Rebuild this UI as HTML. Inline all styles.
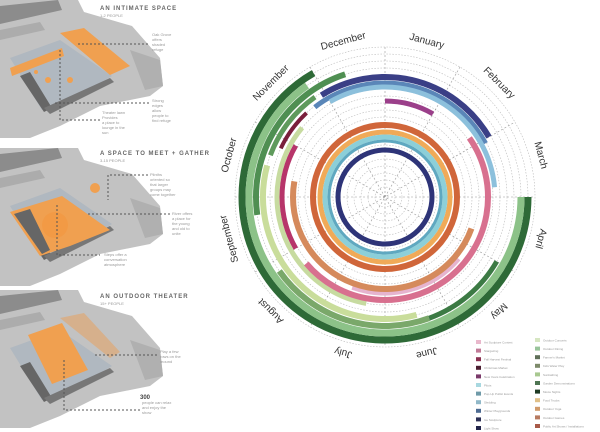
<!DOCTYPE html>
<html><head><meta charset="utf-8"><style>
html,body{margin:0;padding:0;background:#fff;width:600px;height:432px;overflow:hidden;font-family:"Liberation Sans",sans-serif}
</style></head><body>
<svg width="600" height="432" viewBox="0 0 600 432" xmlns="http://www.w3.org/2000/svg">
<defs>
<g id="base">
<polygon points="0,0 78,0 84,12 132,26 160,58 163,86 150,96 100,106 60,126 30,138 0,138" fill="#c2c2c2"/>
<polygon points="0,6 58,0 62,10 0,24" fill="#8c8c8c"/>
<polygon points="0,30 40,22 45,30 0,40" fill="#acacac"/>
<polygon points="10,58 60,40 112,76 72,100 42,110" fill="#b0b8c0"/>
<polygon points="20,76 30,72 52,108 44,112" fill="#666"/>
<polygon points="44,108 110,78 114,82 50,114" fill="#777"/>
<polygon points="130,50 160,60 163,86 145,90" fill="#b0b0b0"/>
</g>
</defs>
<use href="#base" x="0" y="0"/>
<polygon points="60,33 84,28 130,66 110,75" fill="#f0a050"/>
<polygon points="10,68 62,48 64,56 12,76" fill="#f0a050"/>
<circle cx="48" cy="80" r="3" fill="#f0a050"/><circle cx="70" cy="80" r="3" fill="#f0a050"/><circle cx="36" cy="72" r="2" fill="#f0a050"/>
<g stroke="#555" stroke-width="1" stroke-dasharray="2,2" fill="none">
<path d="M78,44H150M60,50V120H100M55,103H150"/>
</g>
<text x="100" y="10" font-size="6" font-weight="bold" fill="#666" letter-spacing="1">AN INTIMATE SPACE</text>
<text x="100" y="17" font-size="4" fill="#999">1-2 PEOPLE</text>
<g font-size="4" fill="#999"><text x="152" y="36">Oak Grove</text><text x="152" y="41">offers</text><text x="152" y="46">shaded</text><text x="152" y="51">refuge</text>
<text x="152" y="102">Strong</text><text x="152" y="107">edges</text><text x="152" y="112">allow</text><text x="152" y="117">people to</text><text x="152" y="122">find refuge</text>
<text x="102" y="114">Theater lawn</text><text x="102" y="119">Provides</text><text x="102" y="124">a place to</text><text x="102" y="129">lounge in the</text><text x="102" y="134">sun</text></g>
<use href="#base" x="0" y="148"/>
<polygon points="10,212 62,196 110,230 70,246 40,256" fill="#f0a050"/>
<circle cx="55" cy="225" r="13" fill="#f29a45"/>
<polygon points="14,214 30,209 50,250 42,254" fill="#666"/>
<circle cx="95" cy="188" r="5" fill="#f0a050"/>
<g stroke="#555" stroke-width="1" stroke-dasharray="2,2" fill="none">
<path d="M110,175H148M108,175V200M88,214H170M57,205V255H100"/>
</g>
<text x="100" y="155" font-size="6" font-weight="bold" fill="#666" letter-spacing="1">A SPACE TO MEET + GATHER</text>
<text x="100" y="162" font-size="4" fill="#999">3-15 PEOPLE</text>
<g font-size="4" fill="#999"><text x="150" y="176">Plinths</text><text x="150" y="181">oriented so</text><text x="150" y="186">that larger</text><text x="150" y="191">groups may</text><text x="150" y="196">come together</text>
<text x="172" y="215">River offers</text><text x="172" y="220">a place for</text><text x="172" y="225">the young</text><text x="172" y="230">and old to</text><text x="172" y="235">unite</text>
<text x="104" y="256">Steps offer a</text><text x="104" y="261">conversation</text><text x="104" y="266">atmosphere</text></g>
<use href="#base" x="0" y="290"/>
<polygon points="28,335 62,323 88,370 52,384" fill="#f0a050"/>
<polygon points="60,318 84,313 120,352 110,358" fill="#d6b08c"/>
<g stroke="#555" stroke-width="1" stroke-dasharray="2,2" fill="none">
<path d="M95,355H158M64,360V410H140"/>
</g>
<text x="100" y="298" font-size="6" font-weight="bold" fill="#666" letter-spacing="1">AN OUTDOOR THEATER</text>
<text x="100" y="305" font-size="4" fill="#999">15+ PEOPLE</text>
<g font-size="4" fill="#999"><text x="160" y="353">Play a few</text><text x="160" y="358">rows on the</text><text x="160" y="363">mound</text>
<text x="142" y="404">people can relax</text><text x="142" y="409">and enjoy the</text><text x="142" y="414">show</text></g>
<text x="140" y="399" font-size="6" font-weight="bold" fill="#444">300</text>

<g fill="none" stroke="#bbb" stroke-width="0.6" stroke-dasharray="1.5,1.5">
<circle cx="385" cy="197" r="150"/><circle cx="385" cy="197" r="143"/><circle cx="385" cy="197" r="136"/><circle cx="385" cy="197" r="129"/><circle cx="385" cy="197" r="122"/><circle cx="385" cy="197" r="115"/><circle cx="385" cy="197" r="108"/><circle cx="385" cy="197" r="101"/><circle cx="385" cy="197" r="94"/><circle cx="385" cy="197" r="87"/><circle cx="385" cy="197" r="80"/><circle cx="385" cy="197" r="73"/><circle cx="385" cy="197" r="66"/><circle cx="385" cy="197" r="59"/><circle cx="385" cy="197" r="52"/><circle cx="385" cy="197" r="45"/><circle cx="385" cy="197" r="38"/><circle cx="385" cy="197" r="31"/><circle cx="385" cy="197" r="24"/><circle cx="385" cy="197" r="17"/><circle cx="385" cy="197" r="10"/>
</g>
<g stroke="#999" stroke-width="0.6" stroke-dasharray="2,2">
<path d="M385,47V347M235,197H535M310,67L460,327M460,67L310,327M255,122L515,272M255,272L515,122"/>
</g>
<g fill="none">
<circle cx="385" cy="197" r="143" stroke="#2e6a37" stroke-width="7" pathLength="360" stroke-dasharray="240 999"/>
<circle cx="385" cy="197" r="136" stroke="#8cc288" stroke-width="7" pathLength="360" stroke-dasharray="235 999"/>
<circle cx="385" cy="197" r="129" stroke="#4f8f52" stroke-width="6" pathLength="360" stroke-dasharray="80 999" transform="rotate(172 385 197)"/>
<circle cx="385" cy="197" r="129" stroke="#7aa86a" stroke-width="6" pathLength="360" stroke-dasharray="75 999" transform="rotate(70 385 197)"/>
<circle cx="385" cy="197" r="129" stroke="#3c7a44" stroke-width="5" pathLength="360" stroke-dasharray="40 999" transform="rotate(30 385 197)"/>
<circle cx="385" cy="197" r="122" stroke="#c9dd9b" stroke-width="6" pathLength="360" stroke-dasharray="120 999" transform="rotate(75 385 197)"/>
<circle cx="385" cy="197" r="122" stroke="#5f9a5c" stroke-width="5" pathLength="360" stroke-dasharray="35 999" transform="rotate(200 385 197)"/>
<circle cx="385" cy="197" r="120" stroke="#3a3f86" stroke-width="6" pathLength="360" stroke-dasharray="92 999" transform="rotate(238 385 197)"/>
<circle cx="385" cy="197" r="114" stroke="#5a86b8" stroke-width="5" pathLength="360" stroke-dasharray="100 999" transform="rotate(232 385 197)"/>
<circle cx="385" cy="197" r="110" stroke="#8cc0dc" stroke-width="5" pathLength="360" stroke-dasharray="115 999" transform="rotate(240 385 197)"/>
<circle cx="385" cy="197" r="115" stroke="#7a1f3c" stroke-width="4" pathLength="360" stroke-dasharray="22 999" transform="rotate(205 385 197)"/>
<circle cx="385" cy="197" r="108" stroke="#c7dba0" stroke-width="5" pathLength="360" stroke-dasharray="120 999" transform="rotate(100 385 197)"/>
<circle cx="385" cy="197" r="103" stroke="#d8708f" stroke-width="6" pathLength="360" stroke-dasharray="175 999" transform="rotate(325 385 197)"/>
<circle cx="385" cy="197" r="103" stroke="#b7356a" stroke-width="5" pathLength="360" stroke-dasharray="60 999" transform="rotate(150 385 197)"/>
<circle cx="385" cy="197" r="96" stroke="#e6b4cf" stroke-width="5" pathLength="360" stroke-dasharray="70 999" transform="rotate(40 385 197)"/>
<circle cx="385" cy="197" r="96" stroke="#9b3f8a" stroke-width="5" pathLength="360" stroke-dasharray="30 999" transform="rotate(270 385 197)"/>
<circle cx="385" cy="197" r="92" stroke="#d58a5c" stroke-width="6" pathLength="360" stroke-dasharray="170 999" transform="rotate(20 385 197)"/>
<circle cx="385" cy="197" r="72" stroke="#d0663a" stroke-width="6"/>
<circle cx="385" cy="197" r="65" stroke="#f0aa58" stroke-width="5"/>
<circle cx="385" cy="197" r="60" stroke="#8ccfd8" stroke-width="5"/>
<circle cx="385" cy="197" r="56" stroke="#5fa8c0" stroke-width="3"/>
<circle cx="385" cy="197" r="47" stroke="#2e3478" stroke-width="5"/>
</g>
<g font-size="10" fill="#333" text-anchor="middle">
<text transform="translate(426,44) rotate(15)">January</text>
<text transform="translate(497,85) rotate(45)">February</text>
<text transform="translate(538,156) rotate(75)">March</text>
<text transform="translate(538,238) rotate(105)">April</text>
<text transform="translate(497,309) rotate(135)">May</text>
<text transform="translate(426,350) rotate(165)">June</text>
<text transform="translate(344,350) rotate(195)">July</text>
<text transform="translate(273,309) rotate(225)">August</text>
<text transform="translate(232,238) rotate(255)">September</text>
<text transform="translate(232,156) rotate(285)">October</text>
<text transform="translate(273,85) rotate(315)">November</text>
<text transform="translate(344,44) rotate(345)">December</text>
</g>
<g font-size="3" fill="#999">
<rect x="476" y="340" width="5" height="4" fill="#e9b8cc"/><text x="484" y="343.5">Art Sculpture Contest</text>
<rect x="476" y="348.6" width="5" height="4" fill="#c07a97"/><text x="484" y="352">Stargazing</text>
<rect x="476" y="357.2" width="5" height="4" fill="#8a3050"/><text x="484" y="360.5">Fall Harvest Festival</text>
<rect x="476" y="365.8" width="5" height="4" fill="#4a1d30"/><text x="484" y="369">Christmas Market</text>
<rect x="476" y="374.4" width="5" height="4" fill="#7a3a6a"/><text x="484" y="377.8">New Years Celebration</text>
<rect x="476" y="383" width="5" height="4" fill="#a8d8e0"/><text x="484" y="386.5">Pilots</text>
<rect x="476" y="391.6" width="5" height="4" fill="#6f9aa8"/><text x="484" y="395">Pop-Up Public Events</text>
<rect x="476" y="400.2" width="5" height="4" fill="#90b8c8"/><text x="484" y="403.5">Sledding</text>
<rect x="476" y="408.8" width="5" height="4" fill="#4d6b92"/><text x="484" y="412">Winter Playgrounds</text>
<rect x="476" y="417.4" width="5" height="4" fill="#2c2f55"/><text x="484" y="420.8">Ice Sculpture</text>
<rect x="476" y="426" width="5" height="4" fill="#22244a"/><text x="484" y="429.5">Light Show</text>
<rect x="535" y="338" width="5" height="4" fill="#d6e6c2"/><text x="543" y="341.5">Outdoor Concerts</text>
<rect x="535" y="346.6" width="5" height="4" fill="#98c49a"/><text x="543" y="350">Outdoor Dining</text>
<rect x="535" y="355.2" width="5" height="4" fill="#5f6f58"/><text x="543" y="358.5">Farmer's Market</text>
<rect x="535" y="363.8" width="5" height="4" fill="#7d8a6a"/><text x="543" y="367">Kids Water Play</text>
<rect x="535" y="372.4" width="5" height="4" fill="#a8c890"/><text x="543" y="375.8">Sunbathing</text>
<rect x="535" y="381" width="5" height="4" fill="#4e7552"/><text x="543" y="384.5">Garden Demonstrations</text>
<rect x="535" y="389.6" width="5" height="4" fill="#1e3a24"/><text x="543" y="393">Movie Nights</text>
<rect x="535" y="398.2" width="5" height="4" fill="#e0c088"/><text x="543" y="401.5">Food Trucks</text>
<rect x="535" y="406.8" width="5" height="4" fill="#d09a6a"/><text x="543" y="410">Outdoor Yoga</text>
<rect x="535" y="415.4" width="5" height="4" fill="#b77a60"/><text x="543" y="418.8">Outdoor Games</text>
<rect x="535" y="424" width="5" height="4" fill="#a85a48"/><text x="543" y="427.5">Public Art Shows / Installations</text>
</g>
</svg>
</body></html>
